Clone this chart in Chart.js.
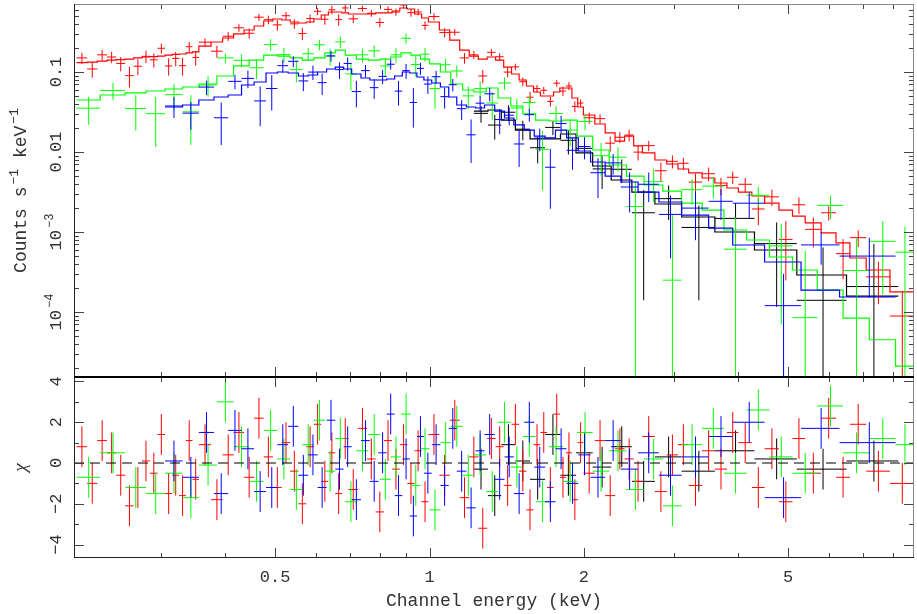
<!DOCTYPE html>
<html>
<head>
<meta charset="utf-8">
<title>Spectrum</title>
<script src="https://cdn.jsdelivr.net/npm/chart.js@4.4.0/dist/chart.umd.min.js"></script>
<style>
  html, body { margin: 0; padding: 0; background: #fff; }
  canvas { display: block; }
</style>
</head>
<body>
<canvas id="spec" width="917" height="614"></canvas>
<script>
// axis ranges and tick labels
const xMin = 0.2027, xMax = 8.80;
const yMin = 1.54e-5, yMax = 0.708;
const chiMin = -4.66, chiMax = 4.22;
const xTickLabels = [0.5, 1, 2, 5];
const xMinorTicks = [0.3, 0.4, 0.6, 0.7, 0.8, 0.9, 3, 4, 6, 7, 8];
const yTickValues = [0.1, 0.01, 0.001, 0.0001];
const yTickText = ['0.1', '0.01', '10^−3', '10^−4'];
const chiTickValues = [4, 2, 0, -2, -4];
const chiTickText = ['4', '2', '0', '−2', '−4'];
const xTitle = 'Channel energy (keV)';
const yTitleParts = [['Counts s', 0], ['−1', 1], [' keV', 0], ['−1', 1]];
const chiTitle = 'χ';

// red spectrum (bin edges in keV, counts/s/keV, 1-sigma error, folded model, residual)
const redEdges = [0.205,0.215,0.225,0.235,0.245,0.255,0.265,0.275,0.285,0.295,0.305,0.315,0.325,0.335,0.345,0.355,
  0.375,0.395,0.415,0.435,0.455,0.475,0.495,0.515,0.535,0.555,0.575,0.595,0.615,0.635,0.655,0.675,0.695,
  0.725,0.755,0.785,0.815,0.845,0.875,0.905,0.935,0.965,0.995,
  1.045,1.095,1.145,1.195,1.245,1.295,1.345,1.395,1.445,1.495,1.545,1.595,1.645,1.695,1.745,1.795,1.845,1.895,1.945,1.995,
  2.1,2.2,2.3,2.4,2.5,2.6,2.75,2.9,3.05,3.2,3.4,3.6,3.8,4.0,4.25,4.5,4.8,5.1,5.4,5.8,6.2,6.6,7.1,7.9,8.8];
const redCounts = [0.150,0.109,0.164,0.154,0.128,0.090,0.118,0.157,0.142,0.198,0.119,0.148,0.120,0.207,0.152,
  0.236,0.182,0.280,0.357,0.305,0.484,0.451,0.388,0.505,0.400,0.303,0.466,0.574,0.456,0.599,0.452,0.632,
  0.462,0.621,0.542,0.416,0.607,0.562,0.688,0.552,0.563,0.383,
  0.493,0.311,0.314,0.150,0.164,0.0893,0.176,0.155,0.0998,0.116,0.0756,0.0484,0.0623,0.0591,0.0429,0.0724,0.0578,0.0669,0.0371,0.0409,
  0.0268,0.0261,0.0129,0.0153,0.0163,0.00997,0.0120,0.00583,0.00765,0.00723,0.00421,0.00535,0.00382,0.00483,0.00395,0.00194,0.00275,0.000808,0.00219,0.00108,0.00174,0.000536,0.000850,0.000275,0.000089];
const redErr = [0.024,0.024,0.025,0.025,0.026,0.026,0.027,0.028,0.028,0.028,0.029,0.030,0.030,0.031,0.032,
  0.027,0.031,0.035,0.039,0.044,0.049,0.056,0.060,0.058,0.055,0.053,0.055,0.060,0.067,0.073,0.073,0.071,
  0.053,0.053,0.053,0.055,0.055,0.058,0.063,0.061,0.053,0.047,
  0.051,0.040,0.030,0.023,0.019,0.017,0.018,0.017,0.014,0.011,0.0095,0.0080,0.0067,0.0060,0.0060,0.0067,0.0076,0.0076,0.0057,0.0044,
  0.00435,0.00336,0.00277,0.00233,0.00269,0.00214,0.00175,0.00151,0.00142,0.00123,0.00115,0.00104,0.00094,0.00085,0.00079,0.00073,0.00064,0.00056,0.00051,0.00044,0.00035,0.00028,0.00020,0.00015,0.000089];
const redModel = [0.131,0.133,0.137,0.141,0.143,0.145,0.150,0.154,0.156,0.158,0.163,0.166,0.168,0.173,0.178,
  0.211,0.237,0.266,0.299,0.335,0.376,0.434,0.460,0.447,0.422,0.410,0.422,0.460,0.516,0.562,0.562,0.547,
  0.531,0.531,0.531,0.547,0.547,0.579,0.631,0.613,0.531,0.473,
  0.422,0.335,0.251,0.188,0.158,0.145,0.154,0.141,0.115,0.0944,0.0794,0.0668,0.0562,0.0501,0.0501,0.0562,0.0631,0.0631,0.0473,0.0365,
  0.0290,0.0224,0.0173,0.0137,0.0158,0.0119,0.00973,0.00794,0.00708,0.00613,0.00547,0.00473,0.00410,0.00355,0.00316,0.00282,0.00230,0.00188,0.00158,0.00130,0.000973,0.000730,0.000473,0.000335,0.000178];
const redChi = [0.8,-1.0,1.1,0.5,-0.6,-2.1,-1.2,0.1,-0.5,1.4,-1.5,-0.6,-1.6,1.1,-0.8,
  0.9,-1.8,0.4,1.5,-0.7,2.2,0.3,-1.2,1.0,-0.4,-2.0,0.8,1.9,-0.9,0.5,-1.5,1.2,
  -1.3,1.7,0.2,-2.4,1.1,-0.3,0.9,-1.0,0.6,-1.9,
  1.4,-0.6,2.1,-1.7,0.3,-3.2,1.2,0.8,-1.1,1.9,-0.4,-2.3,0.9,1.5,-1.2,2.4,-0.7,0.5,-1.8,1.0,
  -0.5,1.1,-1.6,0.7,0.2,-0.9,1.3,-1.4,0.4,0.9,-1.1,0.6,-0.3,1.5,1.0,-1.2,0.7,-1.9,1.2,-0.5,2.2,-0.7,1.9,-0.4,-1.0];

// green spectrum
const greenEdges = [0.205,0.228,0.255,0.28,0.305,0.33,0.355,0.385,0.415,0.445,0.475,0.505,0.535,0.565,0.595,0.625,0.655,0.685,
  0.72,0.76,0.80,0.84,0.88,0.92,0.96,1.0,1.05,1.1,1.16,1.22,1.29,1.36,1.44,1.52,1.61,1.71,1.82,1.94,
  2.08,2.24,2.42,2.62,2.85,3.1,3.4,3.75,4.15,4.6,5.1,5.7,6.4,7.2,8.1,8.8];
const greenCounts = [0.0353,0.0588,0.0350,0.0301,0.0521,0.0318,0.0688,0.150,0.140,0.113,0.220,0.165,0.107,0.169,0.219,0.158,0.238,0.0949,
  0.164,0.184,0.119,0.164,0.264,0.124,0.167,0.0622,0.123,0.103,0.0503,0.0620,0.0410,0.0728,0.0355,0.0416,0.0108,0.0303,0.0188,
  0.0241,0.0090,0.00861,0.00208,0.00426,0.00025,0.00338,0.00375,0.00061,0.00288,0.00067,0.000085,0.00215,0.00033,0.000765,0.00056];
const greenErr = [0.0134,0.0144,0.0164,0.0185,0.0184,0.0195,0.0198,0.020,0.026,0.031,0.036,0.035,0.033,0.031,0.033,0.038,0.041,0.036,
  0.032,0.031,0.032,0.034,0.038,0.036,0.032,0.0277,0.023,0.0177,0.0155,0.0146,0.0158,0.0128,0.0105,0.0090,0.0075,0.0073,0.0070,
  0.0055,0.0040,0.0029,0.00225,0.0019,0.0014,0.0012,0.0011,0.0009,0.0008,0.0006,0.0005,0.0007,0.0005,0.0006,0.0006];
const greenModel = [0.0447,0.0516,0.0547,0.0579,0.0613,0.0649,0.0708,0.0891,0.119,0.141,0.163,0.158,0.150,0.141,0.150,0.173,0.188,0.163,
  0.145,0.141,0.145,0.154,0.173,0.163,0.145,0.126,0.100,0.0708,0.0596,0.0562,0.0631,0.0473,0.0376,0.0299,0.0251,0.0244,0.0251,
  0.0158,0.0106,0.00688,0.00500,0.00387,0.00325,0.00230,0.00188,0.00106,0.000794,0.000487,0.000335,0.000188,0.000084,0.000045,0.000021];
const greenChi = [-0.7,0.5,-1.2,-1.5,-0.5,-1.7,-0.1,3.0,0.8,-0.9,1.6,0.2,-1.3,0.9,2.1,-0.4,1.2,-1.9,
  0.6,1.4,-0.8,0.3,2.4,-1.1,0.7,-2.3,1.0,1.8,-0.6,0.4,-1.4,2.0,-0.2,1.3,-1.9,0.8,-0.9,
  1.5,-0.4,0.6,-1.3,0.2,-2.1,0.9,1.7,-0.5,2.6,0.3,-0.5,2.8,0.5,1.2,0.9];

// blue spectrum
const blueEdges = [0.305,0.33,0.355,0.38,0.405,0.43,0.455,0.48,0.505,0.53,0.555,0.58,0.605,0.63,0.655,0.68,0.705,0.735,0.765,0.795,
  0.825,0.855,0.885,0.915,0.945,0.975,1.01,1.05,1.09,1.13,1.18,1.23,1.28,1.34,1.40,1.46,1.53,1.60,1.68,1.76,1.85,1.95,
  2.06,2.2,2.36,2.55,2.8,3.1,3.5,3.9,4.5,5.3,6.3,8.1];
const blueCounts = [0.0376,0.0306,0.0648,0.0268,0.0764,0.0832,0.0435,0.0622,0.120,0.136,0.0773,0.0998,0.0736,0.159,0.107,0.128,0.0570,0.104,0.0637,0.0881,
  0.125,0.0577,0.104,0.0416,0.111,0.0707,0.0873,0.0492,0.0694,0.0348,0.0164,0.0408,0.0533,0.0255,0.0288,0.0126,0.0293,0.0149,0.00645,0.0227,0.0105,
  0.0117,0.00551,0.00731,0.00365,0.00395,0.00166,0.00199,0.00242,0.00229,0.00012,0.00069,0.00050];
const blueErr = [0.0110,0.0116,0.0134,0.0146,0.0155,0.0206,0.0225,0.0292,0.022,0.0214,0.0196,0.0202,0.022,0.024,0.0253,0.024,0.0208,0.0185,0.0175,0.0175,
  0.018,0.0196,0.022,0.0214,0.019,0.0175,0.016,0.0143,0.0122,0.0097,0.0091,0.0089,0.0104,0.0088,0.0072,0.0061,0.0053,0.0047,0.0045,0.0056,0.0045,
  0.0036,0.00285,0.0021,0.0019,0.00158,0.00119,0.0012,0.0010,0.0008,0.00018,0.0003,0.00035];
const blueModel = [0.0365,0.0387,0.0447,0.0487,0.0516,0.0688,0.0750,0.0972,0.100,0.0972,0.0891,0.0917,0.100,0.109,0.115,0.109,0.0944,0.0841,0.0794,0.0794,
  0.0818,0.0891,0.100,0.0972,0.0866,0.0794,0.0729,0.0649,0.0487,0.0387,0.0365,0.0355,0.0387,0.0325,0.0266,0.0218,0.0188,0.0158,0.0150,0.0188,0.0150,
  0.0103,0.00750,0.00500,0.00422,0.00316,0.00237,0.00163,0.00112,0.000688,0.000422,0.000188,0.000154];
const blueChi = [0.1,-0.7,1.5,-1.5,1.6,0.7,-1.4,-1.2,0.9,1.8,-0.6,0.4,-1.2,2.1,-0.3,0.8,-1.8,1.1,-0.9,0.5,
  2.4,-1.6,0.2,-2.6,1.3,-0.5,0.9,-1.1,1.7,-0.4,-2.2,0.6,1.4,-0.8,0.3,-1.5,2.0,-0.2,-1.9,0.7,-1.0,
  0.4,-0.7,1.1,-0.3,0.5,-0.6,0.3,1.3,2.0,-1.7,1.7,1.0];

// black spectrum (only visible from the hard band up, the rest sits under blue)
const blackEdges = [1.22,1.3,1.38,1.47,1.57,1.68,1.8,1.93,2.08,2.26,2.48,2.75,3.1,3.6,4.3,5.2,6.5,8.2];
const blackCounts = [0.0304,0.0217,0.0314,0.0193,0.0113,0.0203,0.0140,0.0111,0.00615,0.00608,0.00174,0.00261,0.00114,0.00148,0.000716,0.00014,0.000208];
const blackErr = [0.0072,0.0074,0.0070,0.0053,0.0041,0.0041,0.0047,0.0027,0.0027,0.0020,0.0016,0.0012,0.0010,0.0008,0.0006,0.0005,0.0005];
const blackModel = [0.0325,0.0335,0.0251,0.0188,0.0146,0.0146,0.0168,0.00973,0.00668,0.00447,0.00316,0.00224,0.00154,0.00100,0.000596,0.000290,0.000158];
const blackChi = [-0.3,-1.6,0.9,0.1,-0.8,1.4,-0.6,0.5,-0.2,0.8,-0.9,0.3,-0.4,0.6,0.2,-0.3,0.1];

const MONO = '"Liberation Mono", "DejaVu Sans Mono", monospace';
const INK = '#333';

// step histogram for the folded model
function stepPoints(edges, model) {
  const pts = model.map((m, i) => ({ x: edges[i], y: m }));
  pts.push({ x: edges[edges.length - 1], y: model[model.length - 1] });
  return pts;
}

// crosses: bin width horizontally, +/- error vertically
function crossPoints(edges, vals, errs) {
  return vals.map((v, i) => ({
    x: (edges[i] + edges[i + 1]) / 2, y: v,
    x0: edges[i], x1: edges[i + 1],
    y0: v - (errs ? errs[i] : 1), y1: v + (errs ? errs[i] : 1)
  }));
}

const series = [
  { name: 'blue', color: '#0000ff', edges: blueEdges, counts: blueCounts, err: blueErr, model: blueModel, chi: blueChi },
  { name: 'green', color: '#00ff00', edges: greenEdges, counts: greenCounts, err: greenErr, model: greenModel, chi: greenChi },
  { name: 'red', color: '#ff0000', edges: redEdges, counts: redCounts, err: redErr, model: redModel, chi: redChi },
  { name: 'black', color: '#000000', edges: blackEdges, counts: blackCounts, err: blackErr, model: blackModel, chi: blackChi }
];

// first dataset is drawn last (on top)
const datasets = [{
  type: 'line', label: 'zero', yAxisID: 'y2',
  data: [{ x: xMin, y: 0 }, { x: xMax, y: 0 }],
  borderColor: '#000', borderWidth: 1, borderDash: [10, 6], pointRadius: 0
}];
series.forEach(s => {
  datasets.push({
    type: 'line', label: s.name + ' model', yAxisID: 'y',
    data: stepPoints(s.edges, s.model), stepped: true,
    borderColor: s.color, borderWidth: 1.2, pointRadius: 0, fill: false
  });
  datasets.push({
    type: 'scatter', label: s.name + ' data', yAxisID: 'y', crosses: true,
    data: crossPoints(s.edges, s.counts, s.err),
    borderColor: s.color, pointRadius: 0, showLine: false
  });
});
series.forEach(s => {
  datasets.push({
    type: 'scatter', label: s.name + ' chi', yAxisID: 'y2', crosses: true,
    data: crossPoints(s.edges, s.chi, null),
    borderColor: s.color, pointRadius: 0, showLine: false
  });
});

const crossPlugin = {
  id: 'crosses',
  afterDatasetDraw(chart, args) {
    const ds = chart.data.datasets[args.index];
    if (!ds.crosses) return;
    const xs = chart.scales.x, ys = chart.scales[ds.yAxisID];
    const isLog = ys.type === 'logarithmic';
    const ctx = chart.ctx;
    ctx.save();
    ctx.beginPath();
    ctx.rect(xs.left, ys.top, xs.right - xs.left, ys.bottom - ys.top);
    ctx.clip();
    ctx.strokeStyle = ds.borderColor;
    ctx.lineWidth = 1;
    ctx.beginPath();
    ds.data.forEach(p => {
      const py = ys.getPixelForValue(p.y);
      ctx.moveTo(xs.getPixelForValue(p.x0), py);
      ctx.lineTo(xs.getPixelForValue(p.x1), py);
      const px = xs.getPixelForValue(p.x);
      const lo = (!isLog || p.y0 > 0) ? ys.getPixelForValue(p.y0) : ys.bottom + 2;
      ctx.moveTo(px, lo);
      ctx.lineTo(px, ys.getPixelForValue(p.y1));
    });
    ctx.stroke();
    ctx.restore();
  }
};

function rotatedLabel(ctx, parts, x, y, size) {
  ctx.save();
  ctx.translate(x, y);
  ctx.rotate(-Math.PI / 2);
  const supSize = Math.round(size * 0.72);
  let total = 0;
  const widths = parts.map(([t, sup]) => {
    ctx.font = (sup ? supSize : size) + 'px ' + MONO;
    const w = ctx.measureText(t).width + (sup ? 2 : 0);
    total += w;
    return w;
  });
  let pos = -total / 2;
  ctx.fillStyle = INK;
  ctx.textAlign = 'left';
  ctx.textBaseline = 'alphabetic';
  parts.forEach(([t, sup], i) => {
    ctx.font = (sup ? supSize : size) + 'px ' + MONO;
    ctx.fillText(t, pos + (sup ? 2 : 0), sup ? -size * 0.45 : 0);
    pos += widths[i];
  });
  ctx.restore();
}

const framePlugin = {
  id: 'frame',
  afterDraw(chart) {
    const ctx = chart.ctx;
    const xs = chart.scales.x, yt = chart.scales.y, yb = chart.scales.y2;
    const left = xs.left, right = xs.right;
    ctx.save();
    ctx.lineWidth = 1;
    ctx.strokeStyle = '#444';
    ctx.beginPath();
    [[yt.top, 1], [yt.bottom, -1], [yb.top, 1], [yb.bottom, -1]].forEach(([edge, dir]) => {
      xMinorTicks.forEach(v => {
        const px = Math.round(xs.getPixelForValue(v)) + 0.5;
        ctx.moveTo(px, edge); ctx.lineTo(px, edge + dir * 5);
      });
      xTickLabels.forEach(v => {
        const px = Math.round(xs.getPixelForValue(v)) + 0.5;
        ctx.moveTo(px, edge); ctx.lineTo(px, edge + dir * 10);
      });
    });
    for (let d = -5; d <= 0; d++) {
      for (let k = 1; k <= 9; k++) {
        const v = k * Math.pow(10, d);
        if (v < yMin || v > yMax) continue;
        const py = Math.round(yt.getPixelForValue(v)) + 0.5;
        const len = k === 1 ? 10 : 5;
        ctx.moveTo(left, py); ctx.lineTo(left + len, py);
        ctx.moveTo(right, py); ctx.lineTo(right - len, py);
      }
    }
    for (let c = -4; c <= 4; c++) {
      const py = Math.round(yb.getPixelForValue(c)) + 0.5;
      const len = c % 2 === 0 ? 10 : 5;
      ctx.moveTo(left, py); ctx.lineTo(left + len, py);
      ctx.moveTo(right, py); ctx.lineTo(right - len, py);
    }
    ctx.stroke();

    // frame: dark left/bottom, grey top/right, black divider
    ctx.strokeStyle = '#888';
    ctx.beginPath();
    ctx.moveTo(left, yt.top + 0.5); ctx.lineTo(right, yt.top + 0.5);
    ctx.moveTo(right - 0.5, yt.top); ctx.lineTo(right - 0.5, yb.bottom);
    ctx.stroke();
    ctx.strokeStyle = '#222';
    ctx.beginPath();
    ctx.moveTo(left + 0.5, yt.top); ctx.lineTo(left + 0.5, yb.bottom);
    ctx.moveTo(left, yb.bottom - 0.5); ctx.lineTo(right, yb.bottom - 0.5);
    ctx.stroke();
    ctx.strokeStyle = '#000';
    ctx.lineWidth = 2;
    ctx.beginPath();
    ctx.moveTo(left, yt.bottom); ctx.lineTo(right, yt.bottom);
    ctx.stroke();

    // rotated tick labels and axis titles
    yTickValues.forEach((v, i) => {
      const parts = yTickText[i].split('^').map((t, j) => [t, j]);
      rotatedLabel(ctx, parts, left - 13, yt.getPixelForValue(v), 17);
    });
    chiTickValues.forEach((v, i) => {
      rotatedLabel(ctx, [[chiTickText[i], 0]], left - 13, yb.getPixelForValue(v), 17);
    });
    rotatedLabel(ctx, yTitleParts, 26, (yt.top + yt.bottom) / 2, 18);
    ctx.save();
    ctx.translate(26, (yb.top + yb.bottom) / 2);
    ctx.rotate(-Math.PI / 2);
    ctx.font = 'italic 19px "Liberation Serif", serif';
    ctx.fillStyle = INK;
    ctx.textAlign = 'center';
    ctx.fillText(chiTitle, 0, 0);
    ctx.restore();
    ctx.restore();
  }
};

document.addEventListener('DOMContentLoaded', function () {
  const ctx = document.getElementById('spec').getContext('2d');
  new Chart(ctx, {
    type: 'scatter',
    data: { datasets: datasets },
    options: {
      responsive: false,
      animation: false,
      events: [],
      layout: { padding: { top: 4, right: 3, left: 0, bottom: 0 } },
      plugins: { legend: { display: false }, tooltip: { enabled: false } },
      scales: {
        x: {
          type: 'logarithmic', min: xMin, max: xMax, position: 'bottom',
          grid: { display: false, drawTicks: false }, border: { display: false },
          afterBuildTicks: s => { s.ticks = xTickLabels.map(v => ({ value: v })); },
          afterFit: s => { s.height = 56; },
          ticks: {
            callback: v => String(v), autoSkip: false, maxRotation: 0,
            font: { family: MONO, size: 17 }, color: INK, padding: 9
          },
          title: {
            display: true, text: xTitle, color: INK,
            font: { family: MONO, size: 18 }, padding: { top: 0, bottom: 2 }
          }
        },
        // spectrum panel on top of the stack, residuals below
        y: {
          type: 'logarithmic', min: yMin, max: yMax, position: 'left',
          stack: 'panels', stackWeight: 373, weight: 1,
          grid: { display: false }, border: { display: false },
          ticks: { display: false },
          afterFit: s => { s.width = 74; }
        },
        y2: {
          type: 'linear', min: chiMin, max: chiMax, position: 'left',
          stack: 'panels', stackWeight: 181, weight: 0,
          grid: { display: false }, border: { display: false },
          ticks: { display: false },
          afterFit: s => { s.width = 74; }
        }
      }
    },
    plugins: [crossPlugin, framePlugin]
  });
});
</script>
</body>
</html>
